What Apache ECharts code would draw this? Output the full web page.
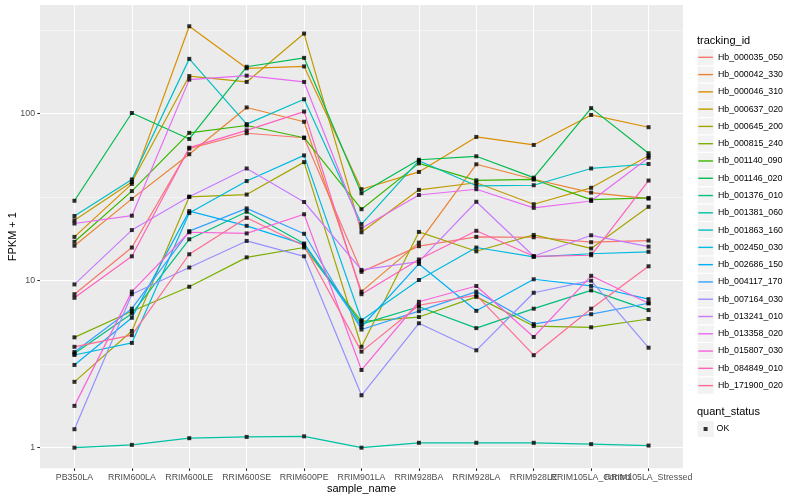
<!DOCTYPE html>
<html><head><meta charset="utf-8">
<script src="https://cdn.jsdelivr.net/npm/echarts@6/dist/echarts.min.js"></script>
<style>html,body{margin:0;padding:0;background:#fff}#c{width:800px;height:500px}</style>
</head><body><div id="c"></div>
<script>
const categories = ['PB350LA','RRIM600LA','RRIM600LE','RRIM600SE','RRIM600PE','RRIM901LA','RRIM928BA','RRIM928LA','RRIM928LE','RRIM105LA_Control','RRIM105LA_Stressed'];
const trackingIds = ['Hb_000035_050','Hb_000042_330','Hb_000046_310','Hb_000637_020','Hb_000645_200','Hb_000815_240','Hb_001140_090','Hb_001146_020','Hb_001376_010','Hb_001381_060','Hb_001863_160','Hb_002450_030','Hb_002686_150','Hb_004117_170','Hb_007164_030','Hb_013241_010','Hb_013358_020','Hb_015807_030','Hb_084849_010','Hb_171900_020'];
const seriesColors = ['#F8766D','#EA8331','#D89000','#C09B00','#A3A500','#7CAE00','#39B600','#00BB4E','#00BF7D','#00C1A3','#00BFC4','#00BAE0','#00B0F6','#35A2FF','#9590FF','#C77CFF','#E76BF3','#FA62DB','#FF62BC','#FF6C91'];

// FPKM + 1 values, one array per tracking_id, in category order
const hb_000035_050 = [8.3, 15.8, 61.8, 76.4, 71.8, 11.3, 16.1, 18.3, 18.2, 17.0, 17.4];
const hb_000042_330 = [16.2, 30.9, 57.2, 109, 89.5, 8.6, 16.9, 49.8, 40.5, 33.7, 31.0];
const hb_000046_310 = [18.3, 38.0, 334, 187, 192, 35.3, 44.8, 72.6, 65.0, 98.3, 83.0];
const hb_000637_020 = [23.0, 39.0, 168, 155, 302, 19.5, 35.0, 38.6, 28.7, 36.0, 56.0];
const hb_000645_200 = [2.48, 5.0, 31.8, 32.8, 51.3, 4.02, 19.6, 15.0, 18.8, 15.6, 27.7];
const hb_000815_240 = [4.58, 6.56, 9.2, 13.8, 15.8, 5.7, 6.06, 8.0, 5.35, 5.26, 5.9];
const hb_001140_090 = [17.1, 34.4, 76.8, 85.0, 71.8, 26.8, 50.4, 39.9, 40.4, 30.6, 31.3];
const hb_001146_020 = [30.1, 101, 70.6, 191, 216, 33.4, 53.0, 55.6, 41.4, 108, 58.0];
const hb_001376_010 = [3.66, 6.36, 17.7, 25.9, 16.7, 5.5, 6.98, 5.2, 6.8, 8.75, 6.67];
const hb_001381_060 = [1.0, 1.04, 1.14, 1.16, 1.17, 1.0, 1.07, 1.07, 1.07, 1.05, 1.03];
const hb_001863_160 = [24.4, 40.4, 213, 86.6, 122, 21.8, 52.3, 37.0, 37.3, 47.0, 50.0];
const hb_002450_030 = [3.59, 4.24, 25.4, 39.5, 56.3, 5.8, 10.1, 15.8, 13.9, 14.5, 14.9];
const hb_002686_150 = [3.13, 6.0, 26.1, 21.3, 16.5, 5.3, 12.6, 6.6, 10.2, 9.3, 7.75];
const hb_004117_170 = [3.74, 6.8, 19.8, 27.1, 19.1, 5.1, 6.57, 8.6, 5.5, 6.3, 7.33];
const hb_007164_030 = [1.29, 8.3, 12.0, 17.3, 14.0, 2.06, 5.56, 3.83, 8.47, 10.0, 3.97];
const hb_013241_010 = [9.5, 20.1, 31.8, 47.0, 29.6, 11.6, 13.0, 29.7, 14.0, 18.7, 16.0];
const hb_013358_020 = [22.0, 24.5, 160, 169, 155, 20.6, 32.6, 35.3, 27.3, 30.0, 54.5];
const hb_015807_030 = [1.78, 8.6, 19.5, 19.2, 25.0, 2.92, 7.48, 9.3, 4.6, 10.7, 7.33];
const hb_084849_010 = [7.9, 14.0, 62.6, 79.5, 103, 8.3, 13.4, 19.9, 14.0, 14.2, 39.8];
const hb_171900_020 = [4.02, 4.72, 14.4, 23.8, 16.2, 3.76, 7.13, 8.2, 3.58, 6.8, 12.2];

const seriesValues = [hb_000035_050, hb_000042_330, hb_000046_310, hb_000637_020, hb_000645_200, hb_000815_240, hb_001140_090, hb_001146_020, hb_001376_010, hb_001381_060, hb_001863_160, hb_002450_030, hb_002686_150, hb_004117_170, hb_007164_030, hb_013241_010, hb_013358_020, hb_015807_030, hb_084849_010, hb_171900_020];

const yMajorTicks = [1, 10, 100];
const yMinorTicks = [3.1623, 31.623, 316.23];
const quantStatus = ['OK'];

const FONT = 'Liberation Sans, Arial, Helvetica, sans-serif';
const catIndex = categories.map((c, i) => i);
const evenIndex = catIndex.filter(i => i % 2 === 0);
const oddIndex = catIndex.filter(i => i % 2 === 1);

const lineSeries = trackingIds.map((id, k) => ({
  name: id,
  type: 'line',
  data: seriesValues[k].map((v, i) => [i, v]),
  symbol: 'none',
  showSymbol: false,
  lineStyle: { color: seriesColors[k], width: 1.2 },
  itemStyle: { color: seriesColors[k] },
  z: 2,
  silent: true,
  animation: false
}));

const pointData = [];
seriesValues.forEach(arr => arr.forEach((v, i) => pointData.push([i, v])));

const pointSeries = {
  name: quantStatus[0],
  type: 'scatter',
  data: pointData,
  symbol: 'rect',
  symbolSize: 4,
  itemStyle: { color: '#000000' },
  z: 3,
  silent: true,
  animation: false
};

const keyX = 697, keySize = 17.28, keyTop = 48.66;
const graphics = [
  { type: 'text', left: 697, top: 35.3, style: { text: 'tracking_id', fontSize: 11, fill: '#000', fontFamily: FONT } },
  { type: 'text', left: 697, top: 406.8, style: { text: 'quant_status', fontSize: 11, fill: '#000', fontFamily: FONT } },
  { type: 'rect', shape: { x: keyX, y: 420.36, width: keySize, height: keySize }, style: { fill: '#F2F2F2', stroke: '#FFFFFF', lineWidth: 1 }, z: 0 }
];
trackingIds.forEach((id, i) => {
  graphics.push({ type: 'rect', shape: { x: keyX, y: keyTop + i * keySize, width: keySize, height: keySize }, style: { fill: '#F2F2F2', stroke: '#FFFFFF', lineWidth: 1 }, z: 0 });
});

const xLabelStyle = { color: '#4D4D4D', fontSize: 8.8, margin: 4.8, hideOverlap: false, showMinLabel: true, showMaxLabel: true, fontFamily: FONT, formatter: v => categories[Math.round(v)] };

const chart = echarts.init(document.getElementById('c'), null, { renderer: 'canvas' });
chart.setOption({
  animation: false,
  backgroundColor: '#FFFFFF',
  textStyle: { fontFamily: FONT },
  grid: { left: 40, right: 117, top: 5, bottom: 31.7, show: true, backgroundColor: '#EBEBEB', borderWidth: 0, containLabel: false, outerBoundsMode: 'none' },
  xAxis: [{
    type: 'value', min: -0.6, max: 10.6, position: 'bottom',
    axisLine: { show: false, onZero: false },
    axisTick: { show: true, length: 2.75, lineStyle: { color: '#333333', width: 1.07 }, customValues: catIndex },
    axisLabel: Object.assign({ customValues: evenIndex }, xLabelStyle),
    splitLine: { show: true, lineStyle: { color: '#FFFFFF', width: 1.07 } },
    name: 'sample_name', nameLocation: 'middle', nameGap: 15.5, nameMoveOverlap: false,
    nameTextStyle: { fontSize: 11, color: '#000000', fontFamily: FONT }
  }, {
    type: 'value', min: -0.6, max: 10.6, position: 'bottom', offset: 0,
    axisLine: { show: false, onZero: false },
    axisTick: { show: false, customValues: oddIndex },
    axisLabel: Object.assign({ customValues: oddIndex }, xLabelStyle),
    splitLine: { show: false }
  }],
  yAxis: [{
    type: 'log', logBase: 10, min: 0.7527, max: 447.7, position: 'left',
    axisLine: { show: false, onZero: false },
    axisTick: { show: true, length: 2.75, lineStyle: { color: '#333333', width: 1.07 }, customValues: yMajorTicks },
    axisLabel: { customValues: yMajorTicks, formatter: v => String(Math.round(v)), color: '#4D4D4D', fontSize: 8.8, margin: 4.95, showMinLabel: true, showMaxLabel: true, fontFamily: FONT },
    splitLine: { show: true, lineStyle: { color: '#FFFFFF', width: 1.07 } },
    name: 'FPKM + 1', nameLocation: 'middle', nameGap: 21.5, nameRotate: 90, nameMoveOverlap: false,
    nameTextStyle: { fontSize: 11, color: '#000000', fontFamily: FONT }
  }, {
    type: 'log', logBase: 10, min: 0.7527, max: 447.7, position: 'right',
    axisLine: { show: false, onZero: false },
    axisTick: { show: false, customValues: yMinorTicks },
    axisLabel: { show: false, customValues: yMinorTicks },
    splitLine: { show: true, lineStyle: { color: '#FFFFFF', width: 0.53 } }
  }],
  legend: [{
    orient: 'vertical', left: 698.3, top: keyTop, padding: 0, itemGap: 0,
    itemWidth: 14.6, itemHeight: 1.4, icon: 'rect',
    selectedMode: false,
    textStyle: { fontSize: 8.8, color: '#000000', lineHeight: 17.28, fontFamily: FONT },
    data: trackingIds
  }, {
    orient: 'vertical', left: 703.6, top: 420.36, padding: 0, itemGap: 0,
    itemWidth: 4, itemHeight: 4, icon: 'rect',
    selectedMode: false,
    textStyle: { fontSize: 8.8, color: '#000000', lineHeight: 17.28, fontFamily: FONT, padding: [0, 0, 0, 4] },
    data: quantStatus
  }],
  graphic: graphics,
  series: lineSeries.concat([pointSeries])
});
</script>
</body></html>
